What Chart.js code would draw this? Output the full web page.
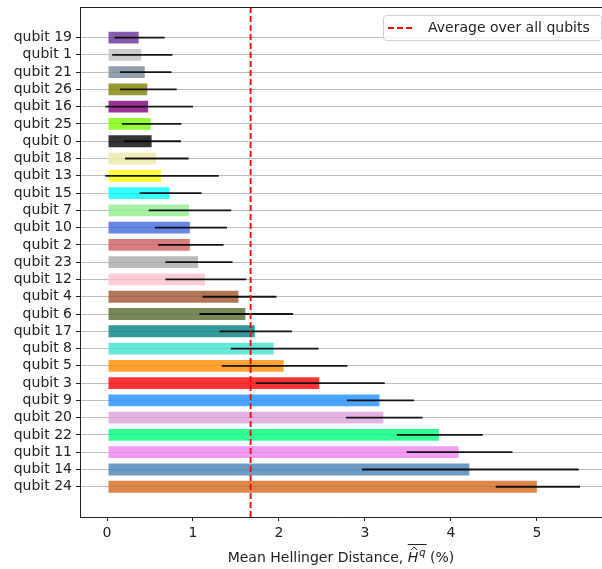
<!DOCTYPE html>
<html>
<head>
<meta charset="utf-8">
<script src="https://cdn.jsdelivr.net/npm/chart.js@4/dist/chart.umd.min.js"></script>
<style>
  html, body { margin: 0; padding: 0; background: #fff; }
</style>
</head>
<body>
<canvas id="chart" width="602" height="569"></canvas>
<script>
// qubits, top to bottom
const qubits = [
  "qubit 19", "qubit 1", "qubit 21", "qubit 26", "qubit 16", "qubit 25", "qubit 0",
  "qubit 18", "qubit 13", "qubit 15", "qubit 7", "qubit 10", "qubit 2", "qubit 23",
  "qubit 12", "qubit 4", "qubit 6", "qubit 17", "qubit 8", "qubit 5", "qubit 3",
  "qubit 9", "qubit 20", "qubit 22", "qubit 11", "qubit 14", "qubit 24"
];
// mean Hellinger distance (%)
const distances = [
  0.38, 0.41, 0.45, 0.48, 0.49, 0.52, 0.53,
  0.58, 0.64, 0.74, 0.965, 0.975, 0.975, 1.07,
  1.15, 1.54, 1.62, 1.73, 1.95, 2.065, 2.48,
  3.18, 3.225, 3.87, 4.10, 4.225, 5.01
];
// half width of error bars (%)
const errors = [
  0.29, 0.35, 0.30, 0.33, 0.51, 0.345, 0.33,
  0.37, 0.66, 0.36, 0.48, 0.42, 0.38, 0.39,
  0.47, 0.43, 0.545, 0.42, 0.51, 0.73, 0.75,
  0.39, 0.445, 0.50, 0.615, 1.26, 0.49
];
const barColors = [
  "rgba(102,51,153,0.8)", "rgba(192,192,192,0.8)", "rgba(119,136,153,0.8)", "rgba(128,128,0,0.8)",
  "rgba(128,0,128,0.8)", "rgba(124,252,0,0.8)", "rgba(0,0,0,0.8)", "rgba(238,232,170,0.8)",
  "rgba(255,255,0,0.8)", "rgba(0,255,255,0.8)", "rgba(144,238,144,0.8)", "rgba(65,105,225,0.8)",
  "rgba(205,92,92,0.8)", "rgba(169,169,169,0.8)", "rgba(255,192,203,0.8)", "rgba(160,82,45,0.8)",
  "rgba(85,107,47,0.8)", "rgba(0,128,128,0.8)", "rgba(64,224,208,0.8)", "rgba(255,140,0,0.8)",
  "rgba(255,0,0,0.8)", "rgba(30,144,255,0.8)", "rgba(221,160,221,0.8)", "rgba(0,255,127,0.8)",
  "rgba(238,130,238,0.8)", "rgba(70,130,180,0.8)", "rgba(210,105,30,0.8)"
];
const averageDistance = 1.67;
const averageLabel = "Average over all qubits";
const xTicks = [0, 1, 2, 3, 4, 5];

const FONT = "DejaVu Sans";
const TEXT = "#222";

const extras = {
  id: "extras",
  afterDatasetsDraw(chart) {
    const { ctx, chartArea, scales: { x, y } } = chart;
    ctx.save();
    // error bars
    ctx.strokeStyle = "rgba(0,0,0,0.9)";
    ctx.lineWidth = 1.8;
    distances.forEach((d, i) => {
      const py = y.getPixelForValue(i);
      ctx.beginPath();
      ctx.moveTo(x.getPixelForValue(d - errors[i]), py);
      ctx.lineTo(x.getPixelForValue(d + errors[i]), py);
      ctx.stroke();
    });
    // average line
    const ax = x.getPixelForValue(averageDistance);
    ctx.strokeStyle = "#ff0000";
    ctx.lineWidth = 1.8;
    ctx.setLineDash([6, 3]);
    ctx.beginPath();
    ctx.moveTo(ax, chartArea.top);
    ctx.lineTo(ax, chartArea.bottom);
    ctx.stroke();
    ctx.restore();
  },
  afterDraw(chart) {
    const { ctx, chartArea } = chart;
    ctx.save();
    // top spine
    ctx.strokeStyle = TEXT;
    ctx.lineWidth = 1;
    ctx.beginPath();
    ctx.moveTo(chartArea.left, chartArea.top + 0.5);
    ctx.lineTo(chartArea.right, chartArea.top + 0.5);
    ctx.stroke();

    // legend box
    const lx = 383, ly = 15, lw = 218, lh = 25;
    ctx.fillStyle = "rgba(255,255,255,0.85)";
    ctx.strokeStyle = "#d0d0d0";
    ctx.beginPath();
    ctx.roundRect(lx + 0.5, ly + 0.5, lw, lh, 3);
    ctx.fill();
    ctx.stroke();
    ctx.strokeStyle = "#ff0000";
    ctx.lineWidth = 1.8;
    ctx.setLineDash([6, 3]);
    ctx.beginPath();
    ctx.moveTo(388, ly + lh / 2 + 0.5);
    ctx.lineTo(415, ly + lh / 2 + 0.5);
    ctx.stroke();
    ctx.setLineDash([]);
    ctx.fillStyle = TEXT;
    ctx.font = "14px '" + FONT + "'";
    ctx.textBaseline = "middle";
    ctx.textAlign = "left";
    ctx.fillText(averageLabel, 428, ly + lh / 2 + 1);

    // x axis title: Mean Hellinger Distance, overline(hat(H)^q) (%)
    const base = 562;
    const p1 = "Mean Hellinger Distance, ";
    const p2 = " (%)";
    ctx.textBaseline = "alphabetic";
    ctx.font = "14px '" + FONT + "'";
    const w1 = ctx.measureText(p1).width;
    const w2 = ctx.measureText(p2).width;
    ctx.font = "italic 14px '" + FONT + "'";
    const wH = ctx.measureText("H").width;
    ctx.font = "italic 10px '" + FONT + "'";
    const wq = ctx.measureText("q").width;
    const total = w1 + wH + wq + 1 + w2;
    let tx = (chartArea.left + chartArea.right) / 2 - total / 2;
    ctx.font = "14px '" + FONT + "'";
    ctx.fillText(p1, tx, base);
    tx += w1;
    const hx = tx;
    ctx.font = "italic 14px '" + FONT + "'";
    ctx.fillText("H", tx, base);
    tx += wH + 1;
    ctx.font = "italic 10px '" + FONT + "'";
    ctx.fillText("q", tx, base - 6);
    tx += wq;
    // hat over H
    ctx.strokeStyle = TEXT;
    ctx.lineWidth = 1;
    const hc = hx + wH / 2 + 1;
    ctx.beginPath();
    ctx.moveTo(hc - 3, base - 12);
    ctx.lineTo(hc, base - 15);
    ctx.lineTo(hc + 3, base - 12);
    ctx.stroke();
    // overline
    ctx.beginPath();
    ctx.moveTo(hx, base - 17.5);
    ctx.lineTo(tx + 1, base - 17.5);
    ctx.stroke();
    ctx.font = "14px '" + FONT + "'";
    ctx.fillText(p2, tx, base);
    ctx.restore();
  }
};

const inRange = (v) => Number.isInteger(v) && v >= 0 && v < qubits.length;

new Chart(document.getElementById("chart"), {
  type: "bar",
  data: {
    datasets: [{
      label: "Mean Hellinger Distance",
      data: distances.map((d, i) => ({ x: d, y: i })),
      backgroundColor: barColors,
      borderColor: "rgba(255,255,255,0.5)",
      borderWidth: 1,
      borderSkipped: false,
      categoryPercentage: 0.8,
      barPercentage: 1.0
    }]
  },
  options: {
    indexAxis: "y",
    responsive: false,
    animation: false,
    layout: { padding: { top: 7, right: 0, left: 0, bottom: 0 } },
    plugins: { legend: { display: false }, tooltip: { enabled: false } },
    scales: {
      x: {
        type: "linear",
        min: -0.314,
        max: 5.756,
        afterFit(scale) { scale.height = 52; scale.paddingLeft = 0; scale.paddingRight = 0; },
        afterBuildTicks(scale) { scale.ticks = xTicks.map(v => ({ value: v })); },
        ticks: { color: TEXT, font: { family: FONT, size: 14 }, padding: 4, includeBounds: false, autoSkip: false },
        grid: { drawOnChartArea: false, tickColor: TEXT, tickLength: 4 },
        border: { display: true, color: TEXT, width: 1 }
      },
      y: {
        type: "linear",
        reverse: true,
        offset: false,
        min: -1.77,
        max: qubits.length - 1 + 1.75,
        afterFit(scale) { scale.width = 80; scale.paddingTop = 0; scale.paddingBottom = 0; },
        afterBuildTicks(scale) { scale.ticks = qubits.map((q, i) => ({ value: i })); },
        ticks: {
          color: TEXT,
          font: { family: FONT, size: 14 },
          padding: 4,
          stepSize: 1,
          autoSkip: false,
          includeBounds: false,
          callback: (v) => (inRange(v) ? qubits[v] : "")
        },
        grid: {
          offset: false,
          color: (c) => (c.tick && inRange(c.tick.value) ? "rgba(176,176,176,0.85)" : "rgba(0,0,0,0)"),
          tickColor: (c) => (c.tick && inRange(c.tick.value) ? TEXT : "rgba(0,0,0,0)"),
          lineWidth: 1,
          tickLength: 4
        },
        border: { display: true, color: TEXT, width: 1 }
      }
    }
  },
  plugins: [extras]
});
</script>
</body>
</html>
